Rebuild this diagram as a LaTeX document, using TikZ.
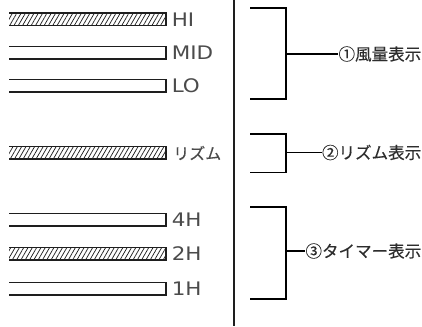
\documentclass[tikz,border=0pt]{standalone}
\usepackage{fontspec}
\setmainfont{Liberation Sans}
\newfontfamily\tagfont[FakeStretch=1.15]{DejaVu Sans}
\newfontfamily\jpfont[FakeBold=0.3]{Noto Sans CJK JP}
\usetikzlibrary{patterns.meta, positioning}
\definecolor{labelgray}{RGB}{75, 75, 75}
\definecolor{jpgray}{RGB}{45, 45, 45}
\definecolor{linedark}{RGB}{30, 30, 30}

\begin{document}
\begin{tikzpicture}[x=0.75pt, y=-0.75pt,
  bar/.style={draw=linedark, line width=1.2pt},
  hatched/.style={pattern={Lines[angle=60, distance=2.8pt, line width=0.55pt]},
                  pattern color=linedark},
  tag/.style={font=\tagfont\fontsize{14}{16}\selectfont, text=labelgray,
              anchor=west, inner sep=0pt},
  jtag/.style={font=\jpfont\fontsize{12}{14}\selectfont, text=labelgray,
               anchor=west, inner sep=0pt},
  note/.style={font=\jpfont\fontsize{12.4}{14}\selectfont, text=jpgray,
               anchor=east, inner sep=0pt},
  brk/.style={draw=black, line width=1.3pt},
  lead/.style={draw=black, line width=0.8pt},
]
\useasboundingbox (0,0) rectangle (422,326);

% Bars (open at the left end)
\fill[hatched] (9,13) rectangle (166,25.5);
\draw[bar] (9,13) -| (166,25.5) -- (9,25.5);
\draw[bar] (9,46.5) -| (166,59) -- (9,59);
\draw[bar] (9,79.5) -| (166,92) -- (9,92);
\fill[hatched] (9,146.5) rectangle (166,159);
\draw[bar] (9,146.5) -| (166,159) -- (9,159);
\draw[bar] (9,213.5) -| (166,226) -- (9,226);
\fill[hatched] (9,247.5) rectangle (166,260);
\draw[bar] (9,247.5) -| (166,260) -- (9,260);
\draw[bar] (9,282.5) -| (166,295) -- (9,295);

% Bar labels
\node[tag] (hi) at (171.5,19.5) {HI};
\node[tag] (mid) at (171.5,53) {MID};
\node[tag] (lo) at (171.5,86) {LO};
\node[jtag] (rhythm) at (173,153) {リズム};
\node[tag] (h4) at (171.5,220) {4H};
\node[tag] (h2) at (171.5,254) {2H};
\node[tag] (h1) at (171.5,289) {1H};

% Divider
\coordinate (divtop) at (234,0);
\coordinate (divbot) at (234,326);
\draw[draw=linedark, line width=1pt] (divtop) -- (divbot);

% Brackets
\draw[brk] (250,7.7) -| (286,99.3) -- (250,99.3);
\draw[brk] (250,134.3) -| (286,172.5) -- (250,172.5);
\draw[brk] (250,206.7) -| (286,299.3) -- (250,299.3);
\coordinate (b1) at (286,54);
\coordinate (b2) at (286,152.5);
\coordinate (b3) at (286,251);

% Notes
\node[note] (fan) at (421.5,54) {①風量表示};
\node[note] (beat) at (421.5,152.5) {②リズム表示};
\node[note] (timer) at (421.5,251) {③タイマー表示};
\draw[lead] (b1) -- (fan.west);
\draw[lead] (b2) -- (beat.west);
\draw[lead] (b3) -- (timer.west);
\end{tikzpicture}
\end{document}
